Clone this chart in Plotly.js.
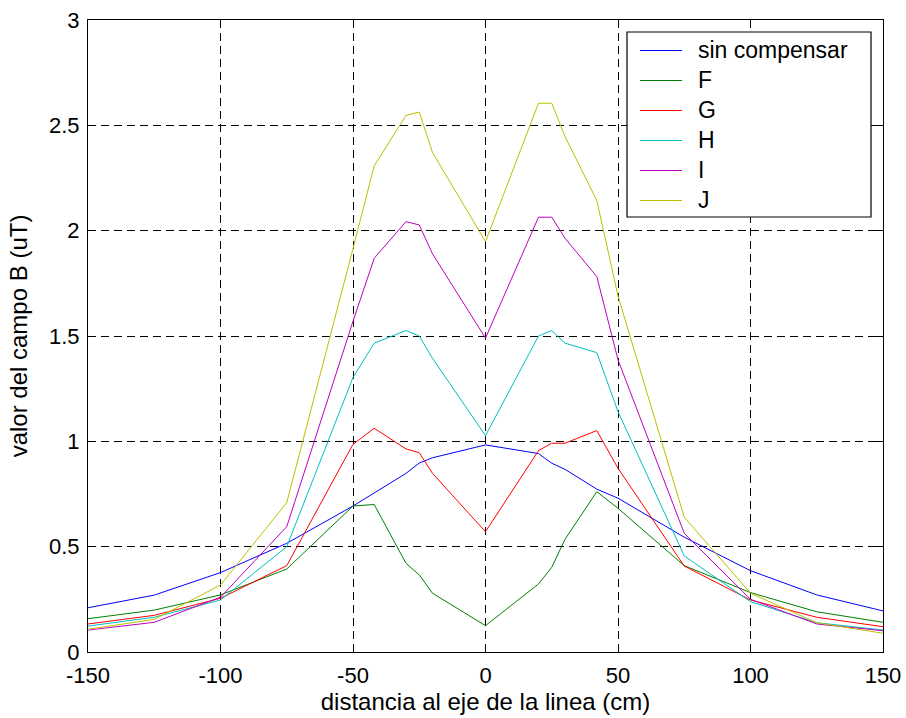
<!DOCTYPE html>
<html>
<head>
<meta charset="utf-8">
<script src="https://cdn.plot.ly/plotly-3.0.1.min.js"></script>
<style>html,body{margin:0;padding:0;background:#fff;}</style>
</head>
<body>
<div id="chart" style="width:906px;height:718px;"></div>
<script>
const xPos = [-150,-125,-100,-75,-50,-42,-30,-25,-20,0,20,25,30,42,50,75,100,125,150];
const seriesNames = ["sin compensar","F","G","H","I","J"];
const sinCompensar = [0.21,0.27,0.377,0.516,0.693,0.755,0.848,0.897,0.922,0.983,0.942,0.896,0.867,0.773,0.730,0.545,0.386,0.271,0.195];
const serieF = [0.158,0.199,0.271,0.394,0.693,0.70,0.421,0.366,0.279,0.125,0.323,0.402,0.535,0.761,0.682,0.41,0.282,0.191,0.141];
const serieG = [0.133,0.174,0.255,0.41,0.986,1.062,0.964,0.946,0.848,0.571,0.956,0.991,0.991,1.051,0.872,0.408,0.247,0.165,0.12];
const serieH = [0.123,0.165,0.247,0.50,1.303,1.466,1.526,1.50,1.394,1.027,1.50,1.526,1.466,1.421,1.141,0.456,0.239,0.139,0.104];
const serieI = [0.104,0.141,0.26,0.595,1.57,1.869,2.043,2.027,1.89,1.49,2.064,2.064,1.964,1.782,1.387,0.563,0.25,0.133,0.101];
const serieJ = [0.108,0.155,0.318,0.709,1.915,2.308,2.547,2.563,2.371,1.948,2.605,2.605,2.447,2.143,1.69,0.64,0.279,0.139,0.089];
const xTicks = [-150,-100,-50,0,50,100,150];
const yTicks = [0,0.5,1,1.5,2,2.5,3];
const colors = ["#0000ff","#008000","#ff0000","#00bfbf","#bf00bf","#bfbf00"];

const allY = [sinCompensar, serieF, serieG, serieH, serieI, serieJ];
const traces = allY.map((ys, i) => ({
  x: xPos, y: ys, name: seriesNames[i], type: "scatter", mode: "lines",
  line: {color: colors[i], width: 1}, showlegend: false
}));

const fontFam = "Arial, 'Liberation Sans', Helvetica, sans-serif";
const axisCommon = {
  showgrid: true, gridcolor: "#000", gridwidth: 1, griddash: "8px,5px",
  zeroline: false, ticks: "inside", ticklen: 8, tickcolor: "#000", tickwidth: 1,
  showline: true, linecolor: "#000", linewidth: 1, mirror: "ticks",
  tickfont: {family: fontFam, size: 22, color: "#000"}
};

// Legend box drawn in paper coordinates (MATLAB-style legend)
const plotL = 88, plotW = 795, plotT = 20, plotH = 632;
const px2x = p => (p - plotL) / plotW;
const py2y = p => (plotT + plotH - p) / plotH;
const legBox = {l: 627, r: 871, t: 32, b: 217};
const legRowY0 = 50, legRowStep = 30;
const shapes = [{
  type: "rect", xref: "paper", yref: "paper",
  x0: px2x(legBox.l), x1: px2x(legBox.r), y0: py2y(legBox.b), y1: py2y(legBox.t),
  fillcolor: "#fff", line: {color: "#000", width: 1.2}, layer: "above"
}];
const annotations = [];
seriesNames.forEach((nm, i) => {
  const rowPx = legRowY0 + i * legRowStep;
  const yLine = py2y(rowPx + 0.5);
  shapes.push({type: "line", xref: "paper", yref: "paper",
    x0: px2x(640), x1: px2x(682), y0: yLine, y1: yLine,
    line: {color: colors[i], width: 1}, layer: "above"});
  annotations.push({xref: "paper", yref: "paper", x: px2x(696), y: py2y(rowPx),
    xanchor: "left", yanchor: "middle", showarrow: false, text: nm,
    font: {family: fontFam, size: 23, color: "#000"}});
});

const layout = {
  width: 906, height: 718,
  margin: {l: plotL, r: 906 - plotL - plotW, t: plotT, b: 718 - plotT - plotH},
  paper_bgcolor: "#fff", plot_bgcolor: "#fff",
  font: {family: fontFam, color: "#000"},
  showlegend: false,
  xaxis: Object.assign({}, axisCommon, {
    range: [-150, 150], tickvals: xTicks, ticktext: xTicks.map(String),
    ticklabelstandoff: 4,
    title: {text: "distancia al eje de la linea (cm)", font: {family: fontFam, size: 24, color: "#000"}, standoff: 4}
  }),
  yaxis: Object.assign({}, axisCommon, {
    range: [0, 3], tickvals: yTicks, ticktext: yTicks.map(String),
    ticklabelstandoff: 3,
    title: {text: "valor del campo B (uT)", font: {family: fontFam, size: 24, color: "#000"}, standoff: 14}
  }),
  shapes: shapes,
  annotations: annotations
};

Plotly.newPlot("chart", traces, layout, {staticPlot: true, displayModeBar: false});
</script>
</body>
</html>
